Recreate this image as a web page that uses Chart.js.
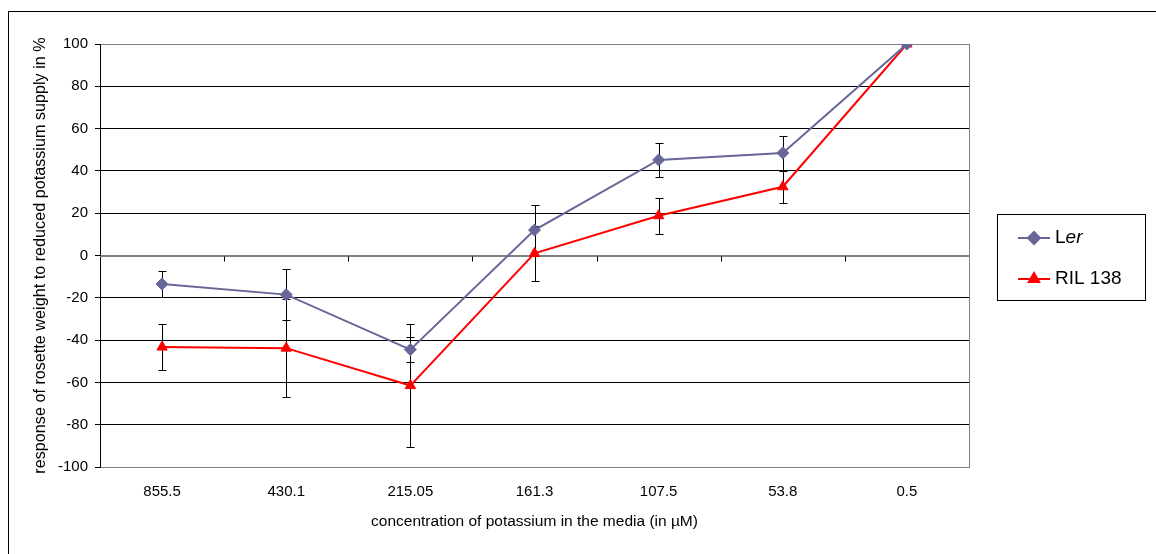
<!DOCTYPE html>
<html>
<head>
<meta charset="utf-8">
<script src="https://cdn.jsdelivr.net/npm/chart.js@4.4.1/dist/chart.umd.min.js"></script>
<style>
  html, body { margin: 0; padding: 0; background: #fff; overflow: hidden; }
  #frame { position: absolute; left: 8px; top: 11px; width: 1200px; height: 600px; border: 1px solid #000; }
  #wrap { position: absolute; left: 0; top: 0; width: 1156px; height: 554px; }
</style>
</head>
<body>
<div id="frame"></div>
<div id="wrap"><canvas id="cv"></canvas></div>
<script>
// K concentration steps (µM), high to low
const concentrations = ['855.5', '430.1', '215.05', '161.3', '107.5', '53.8', '0.5'];

// response in % (mean) and error bar half-widths
const lerValues = [-13.5, -18.5, -44.5, 12, 45.2, 48.5, 100];
const lerErrors = [6, 12, 6, 12, 8, 8, 0];
const rilValues = [-43.3, -43.8, -61.5, 1, 18.8, 32.5, 100];
const rilErrors = [11, 23, 29, 13, 8.5, 7.5, 0];

const yTicks = [-100, -80, -60, -40, -20, 0, 20, 40, 60, 80, 100];

const FONT = "'Liberation Sans', Arial, sans-serif";
const LER_COLOR = '#666699';
const RIL_COLOR = '#ff0000';
const errors = [lerErrors, rilErrors];

// error bars, plot border and the category axis drawn at y = 0
const extras = {
    id: 'extras',
    beforeDatasetsDraw(chart) {
        const ctx = chart.ctx;
        const x = chart.scales.x, y = chart.scales.y;
        const a = chart.chartArea;
        ctx.save();
        ctx.lineWidth = 1;

        // right side of the plot area
        ctx.strokeStyle = '#808080';
        ctx.beginPath();
        ctx.moveTo(Math.round(a.right) + 0.5, a.top);
        ctx.lineTo(Math.round(a.right) + 0.5, a.bottom);
        ctx.stroke();

        // category axis crossing at zero, ticks between categories
        const y0 = Math.round(y.getPixelForValue(0)) + 0.5;
        ctx.strokeStyle = '#808080';
        ctx.beginPath();
        ctx.moveTo(a.left, y0);
        ctx.lineTo(a.right, y0);
        ctx.stroke();
        ctx.strokeStyle = '#000';
        ctx.beginPath();
        for (let i = 0; i < concentrations.length - 1; i++) {
            const bx = Math.round((x.getPixelForValue(i) + x.getPixelForValue(i + 1)) / 2) + 0.5;
            ctx.moveTo(bx, y0);
            ctx.lineTo(bx, y0 + 5);
        }
        ctx.stroke();

        // error bars
        ctx.strokeStyle = '#000';
        chart.data.datasets.forEach((ds, di) => {
            ds.data.forEach((v, i) => {
                const e = errors[di][i];
                if (!e) return;
                const px = Math.round(x.getPixelForValue(i)) + 0.5;
                const top = Math.round(y.getPixelForValue(v + e)) + 0.5;
                const bot = Math.round(y.getPixelForValue(v - e)) + 0.5;
                ctx.beginPath();
                ctx.moveTo(px, top); ctx.lineTo(px, bot);
                ctx.moveTo(px - 4, top); ctx.lineTo(px + 4, top);
                ctx.moveTo(px - 4, bot); ctx.lineTo(px + 4, bot);
                ctx.stroke();
            });
        });
        ctx.restore();
    },
    afterDraw(chart) {
        // legend box on the right
        const ctx = chart.ctx;
        const bx = 997.5, by = 214.5, bw = 148, bh = 86;
        ctx.save();
        ctx.fillStyle = '#fff';
        ctx.fillRect(bx, by, bw, bh);
        ctx.strokeStyle = '#000';
        ctx.lineWidth = 1;
        ctx.strokeRect(bx, by, bw, bh);

        const rows = [
            { y: 238, color: LER_COLOR, style: 'rectRot' },
            { y: 279, color: RIL_COLOR, style: 'triangle' }
        ];
        rows.forEach(r => {
            ctx.strokeStyle = r.color;
            ctx.lineWidth = 2;
            ctx.beginPath();
            ctx.moveTo(1018, r.y); ctx.lineTo(1050, r.y);
            ctx.stroke();
            ctx.fillStyle = r.color;
            Chart.helpers.drawPoint(ctx, { pointStyle: r.style, radius: 6, borderWidth: 1 }, 1034, r.y);
        });

        ctx.fillStyle = '#000';
        ctx.textBaseline = 'middle';
        ctx.font = '19px ' + FONT;
        ctx.fillText('L', 1055, rows[0].y);
        const lw = ctx.measureText('L').width;
        ctx.font = 'italic 19px ' + FONT;
        ctx.fillText('er', 1055 + lw, rows[0].y);
        ctx.font = '19px ' + FONT;
        ctx.fillText(chart.data.datasets[1].label, 1055, rows[1].y);
        ctx.restore();
    }
};

new Chart(document.getElementById('cv'), {
    type: 'line',
    data: {
        labels: concentrations,
        datasets: [
            {
                label: 'Ler',
                data: lerValues,
                borderColor: LER_COLOR,
                backgroundColor: LER_COLOR,
                borderWidth: 2,
                pointStyle: 'rectRot',
                pointRadius: 6,
                pointBorderWidth: 1,
                tension: 0
            },
            {
                label: 'RIL 138',
                data: rilValues,
                borderColor: RIL_COLOR,
                backgroundColor: RIL_COLOR,
                borderWidth: 2,
                pointStyle: 'triangle',
                pointRadius: 6,
                pointBorderWidth: 1,
                tension: 0
            }
        ]
    },
    options: {
        responsive: true,
        maintainAspectRatio: false,
        animation: false,
        layout: { padding: { left: 28, top: 44, right: 187, bottom: 19 } },
        plugins: { legend: { display: false }, tooltip: { enabled: false } },
        scales: {
            x: {
                offset: true,
                afterFit(scale) { scale.height = 68; },
                grid: { display: false, drawTicks: false },
                border: { color: '#808080', width: 1 },
                ticks: { color: '#000', padding: 16, font: { family: FONT, size: 15 }, maxRotation: 0 },
                title: {
                    display: true,
                    text: 'concentration of potassium in the media (in µM)',
                    color: '#000',
                    font: { family: FONT, size: 15.5 },
                    padding: { top: 12, bottom: 4 }
                }
            },
            y: {
                min: -100,
                max: 100,
                afterFit(scale) { scale.width = 72; },
                afterBuildTicks(scale) { scale.ticks = yTicks.map(v => ({ value: v })); },
                grid: {
                    color: c => (c.tick && (Math.abs(c.tick.value) === 100 || c.tick.value === 0)) ? '#808080' : '#000',
                    tickColor: '#000',
                    tickLength: 5,
                    lineWidth: 1
                },
                border: { color: '#000', width: 1 },
                ticks: { color: '#000', padding: 7, font: { family: FONT, size: 15 } },
                title: {
                    display: true,
                    text: 'response of rosette weight to reduced potassium supply in %',
                    color: '#000',
                    font: { family: FONT, size: 16.2 },
                    padding: { top: 3, bottom: 4 }
                }
            }
        }
    },
    plugins: [extras]
});
</script>
</body>
</html>
